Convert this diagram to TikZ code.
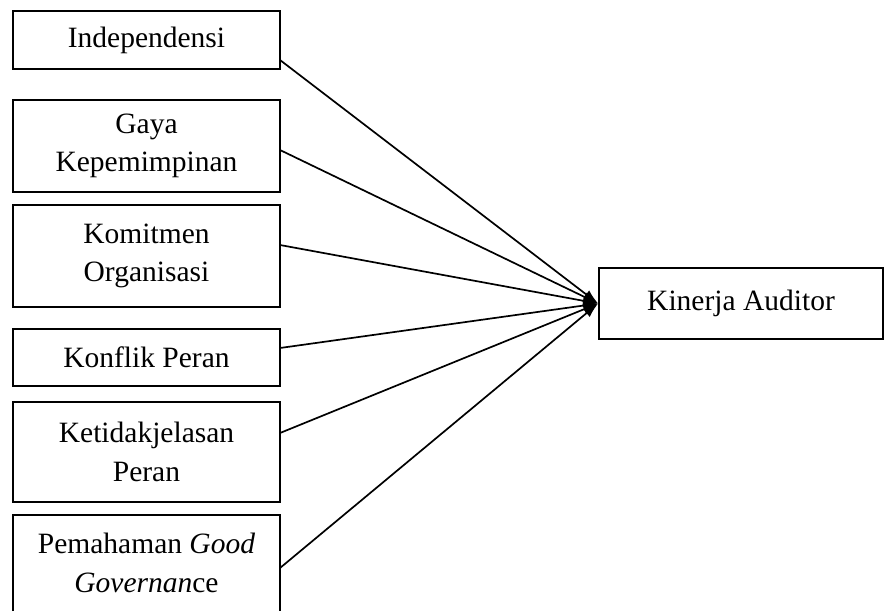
\documentclass[tikz,border=0pt]{standalone}
\usepackage{fontspec}
\setmainfont{Liberation Serif}
\usetikzlibrary{arrows.meta}
\begin{document}
\begin{tikzpicture}[x=1pt,y=-1pt,
  lbl/.style={font=\fontsize{29.5}{38.5}\selectfont, align=center, inner sep=0pt},
  varbox/.style={lbl, draw, line width=1.8pt, minimum width=267pt},
  link/.style={line width=1.7pt, -{Latex[length=15pt,width=10pt]}}]
\useasboundingbox (0,0) rectangle (884,611);
\node[varbox, minimum height=58pt] (b1) at (146.5,40) {Independensi};
\node[varbox, minimum height=92pt] (b2) at (146.5,146) {Gaya\\Kepemimpinan};
\node[varbox, minimum height=102pt] (b3) at (146.5,256) {Komitmen\\Organisasi};
\node[varbox, minimum height=57pt] (b4) at (146.5,357.5) {Konflik Peran};
\node[varbox, minimum height=100pt] (b5) at (146.5,452) {Ketidakjelasan\\Peran};
\node[lbl, minimum width=267pt, minimum height=96pt] (b6) at (146.5,563) {Pemahaman \textit{Good}\\\textit{Governan}ce};
\draw[line width=1.8pt] (b6.south west) -- (b6.north west) -- (b6.north east) -- (b6.south east);
\node[varbox, minimum width=284pt, minimum height=71pt] (k) at (741,303.5) {Kinerja Auditor};
\coordinate (s1) at (280,60);
\coordinate (s2) at (280,150);
\coordinate (s3) at (280,245);
\coordinate (s4) at (280,348);
\coordinate (s5) at (280,433);
\coordinate (s6) at (280,568);
\foreach \i in {1,...,6} \draw[link] (s\i) -- (k.west);
\end{tikzpicture}
\end{document}
